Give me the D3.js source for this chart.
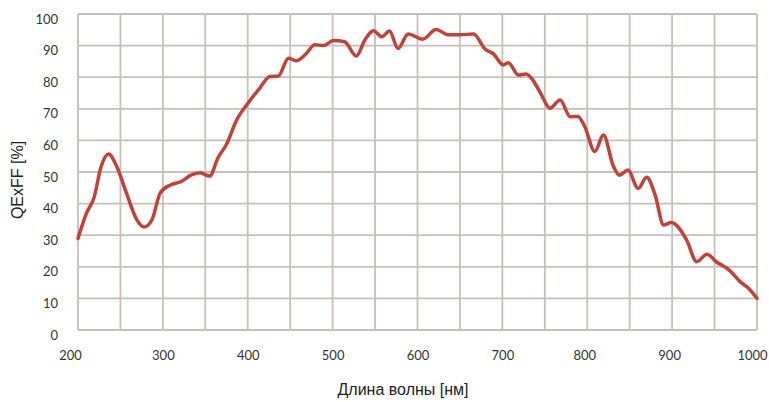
<!DOCTYPE html>
<html>
<head>
<meta charset="utf-8">
<script src="https://cdn.jsdelivr.net/npm/d3@7"></script>
<style>
  body { margin: 0; background: #fff; }
  .tick text { font-family: "Lato", "Open Sans", sans-serif; font-size: 13px; fill: #333; }
  .title { font-family: "Liberation Sans", Arial, sans-serif; font-size: 16px; fill: #222; }
</style>
</head>
<body>
<div id="chart"></div>
<script>
// curve: wavelength (nm) and QE x FF (%)
var wavelength = [200, 210, 219, 227, 236, 246, 257, 269, 278, 287, 297, 309, 321, 333, 344, 355,
  365, 375, 387, 400, 414, 426, 436, 448, 457, 469, 479, 489, 501, 514, 528, 538, 548, 558, 567,
  577, 589, 606, 622, 636, 650, 666, 680, 689, 701, 707, 719, 728, 736, 746, 756, 768, 780, 789,
  797, 809, 819, 831, 838, 848, 860, 870, 880, 890, 899, 917, 929, 941, 952, 968, 980, 990, 1000];
var qe = [29, 37, 42, 51.5, 55.7, 51.5, 43.4, 35, 32.6, 34.8, 43.4, 45.9, 46.9, 49, 49.8, 48.7,
  54.5, 58.8, 66.5, 71.7, 76.5, 80.2, 80.4, 86, 85.2, 87.5, 90.3, 90, 91.6, 91.2, 86.7, 91.8, 94.7, 92.8, 94.6,
  89.1, 93.7, 92, 95.1, 93.4, 93.4, 93.7, 88.8, 87.5, 83.9, 84.6, 80.7, 81, 79.1, 74.4, 70.2, 72.8, 67.5, 67.6,
  64.4, 56.5, 61.7, 51.7, 49, 50.6, 44.8, 48.3, 42.7, 33.2, 34, 28.5, 21.6, 24, 21.6, 18.8, 15.3, 13.2, 10];
var xTicks = [200, 300, 400, 500, 600, 700, 800, 900, 1000];
var yTicks = [0, 10, 20, 30, 40, 50, 60, 70, 80, 90, 100];
var xGrid = d3.range(200, 1001, 50);

var svgWidth = 769;
var svgHeight = 402;
var margin = { top: 14, right: 12, bottom: 72, left: 78 };
var width = svgWidth - margin.left - margin.right;
var height = svgHeight - margin.top - margin.bottom;

var svg = d3.select("#chart").append("svg")
  .attr("width", svgWidth)
  .attr("height", svgHeight);

var chartGroup = svg.append("g")
  .attr("transform", `translate(${margin.left}, ${margin.top})`);

var x = d3.scaleLinear().domain([200, 1000]).range([0, width]);
var y = d3.scaleLinear().domain([0, 100]).range([height, 0]);

// grid
chartGroup.selectAll(".vgrid")
  .data(xGrid)
  .enter()
  .append("line")
  .attr("x1", d => x(d)).attr("x2", d => x(d))
  .attr("y1", 0).attr("y2", height)
  .attr("stroke", "#c6bfbc")
  .attr("stroke-width", 1.8);

chartGroup.selectAll(".hgrid")
  .data(yTicks)
  .enter()
  .append("line")
  .attr("x1", 0).attr("x2", width)
  .attr("y1", d => y(d)).attr("y2", d => y(d))
  .attr("stroke", "#c6bfbc")
  .attr("stroke-width", 1.8);

// axes (labels only)
var xAxis = chartGroup.append("g")
  .attr("transform", `translate(0, ${height})`)
  .call(d3.axisBottom(x).tickValues(xTicks).tickFormat(d3.format("d")).tickSize(0).tickPadding(21));
xAxis.select(".domain").remove();
xAxis.selectAll(".tick").filter(d => d === 200).select("text").attr("dx", -8);
xAxis.selectAll(".tick").filter(d => d >= 800).select("text").attr("dx", d => d === 1000 ? -5 : -3);

var yAxis = chartGroup.append("g")
  .call(d3.axisLeft(y).tickValues(yTicks).tickSize(0).tickPadding(20));
yAxis.select(".domain").remove();
yAxis.selectAll(".tick text").attr("dy", "0.7em");

// curve
var pts = wavelength.map((w, i) => [w, qe[i]]);
var line = d3.line()
  .x(d => x(d[0]))
  .y(d => y(d[1]))
  .curve(d3.curveMonotoneX);

chartGroup.append("path")
  .datum(pts)
  .attr("d", line)
  .attr("fill", "none")
  .attr("stroke", "#c0433b")
  .attr("stroke-width", 3.5)
  .attr("stroke-linejoin", "round")
  .attr("stroke-linecap", "round");

// titles
svg.append("text")
  .attr("class", "title")
  .attr("text-anchor", "middle")
  .attr("transform", "translate(23, 180) rotate(-90)")
  .text("QExFF [%]");

svg.append("text")
  .attr("class", "title")
  .attr("text-anchor", "middle")
  .attr("x", 403)
  .attr("y", 395)
  .text("Длина волны [нм]");
</script>
</body>
</html>
